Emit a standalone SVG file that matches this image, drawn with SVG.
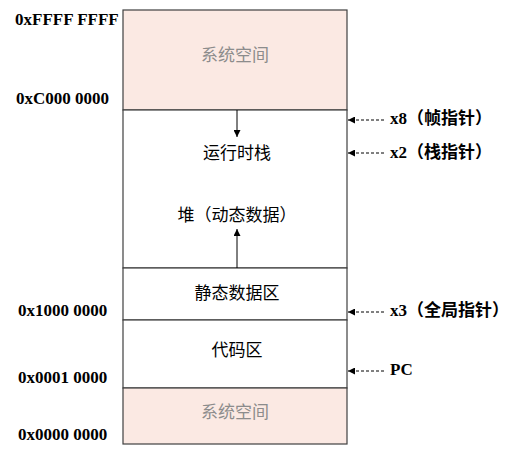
<svg xmlns="http://www.w3.org/2000/svg" width="511" height="455" viewBox="0 0 511 455">
  <style>
    .box { stroke: #404040; stroke-width: 1.2; }
    .sys { fill: #fbe9e3; }
    .plain { fill: #ffffff; }
    .addr { font-family: "Liberation Serif", serif; font-weight: bold; font-size: 17px; fill: #000; }
    .zh { font-family: "Liberation Serif", "Noto Sans CJK SC", serif; font-size: 17px; fill: #000; text-anchor: middle; }
    .zh-gray { fill: #8c8c8c; }
    .reg { font-family: "Liberation Serif", "Noto Sans CJK SC", serif; font-weight: bold; font-size: 17px; fill: #000; }
    .solid { stroke: #000; stroke-width: 1; fill: none; }
    .dash { stroke: #000; stroke-width: 1; fill: none; stroke-dasharray: 3 2; }
  </style>
  <defs>
    <marker id="tip" viewBox="0 0 10 10" refX="10" refY="5" markerWidth="7" markerHeight="7" markerUnits="userSpaceOnUse" orient="auto">
      <path d="M0,0 L10,5 L0,10 z" fill="#000"/>
    </marker>
  </defs>

  <!-- memory regions -->
  <g id="sys-high">
    <rect class="box sys" x="123" y="10" width="224" height="100"/>
    <text class="zh zh-gray" x="235" y="61">系统空间</text>
  </g>
  <g id="stack-heap">
    <rect class="box plain" x="123" y="110" width="224" height="158"/>
    <text class="zh" x="237" y="159">运行时栈</text>
    <text class="zh" x="237" y="221">堆（动态数据）</text>
  </g>
  <g id="static-data">
    <rect class="box plain" x="123" y="268" width="224" height="52"/>
    <text class="zh" x="237" y="299">静态数据区</text>
  </g>
  <g id="code">
    <rect class="box plain" x="123" y="320" width="224" height="68"/>
    <text class="zh" x="237" y="356">代码区</text>
  </g>
  <g id="sys-low">
    <rect class="box sys" x="123" y="388" width="224" height="56"/>
    <text class="zh zh-gray" x="235" y="418">系统空间</text>
  </g>

  <!-- address labels -->
  <g id="addresses">
    <text class="addr" x="15" y="25">0xFFFF FFFF</text>
    <text class="addr" x="16" y="104">0xC000 0000</text>
    <text class="addr" x="18" y="316">0x1000 0000</text>
    <text class="addr" x="18" y="383">0x0001 0000</text>
    <text class="addr" x="18" y="440">0x0000 0000</text>
  </g>

  <!-- register labels -->
  <g id="registers">
    <text class="reg" x="390" y="124">x8（帧指针）</text>
    <text class="reg" x="390" y="158">x2（栈指针）</text>
    <text class="reg" x="390" y="316">x3（全局指针）</text>
    <text class="reg" x="390" y="375">PC</text>
  </g>

  <!-- connectors -->
  <g id="connectors">
    <line class="solid" x1="237" y1="110" x2="237" y2="137" marker-end="url(#tip)"/>
    <line class="solid" x1="237" y1="268" x2="237" y2="229" marker-end="url(#tip)"/>
    <line class="dash" x1="384" y1="120" x2="348" y2="120" marker-end="url(#tip)"/>
    <line class="dash" x1="384" y1="153" x2="348" y2="153" marker-end="url(#tip)"/>
    <line class="dash" x1="384" y1="312" x2="348" y2="312" marker-end="url(#tip)"/>
    <line class="dash" x1="384" y1="371" x2="348" y2="371" marker-end="url(#tip)"/>
  </g>
</svg>
